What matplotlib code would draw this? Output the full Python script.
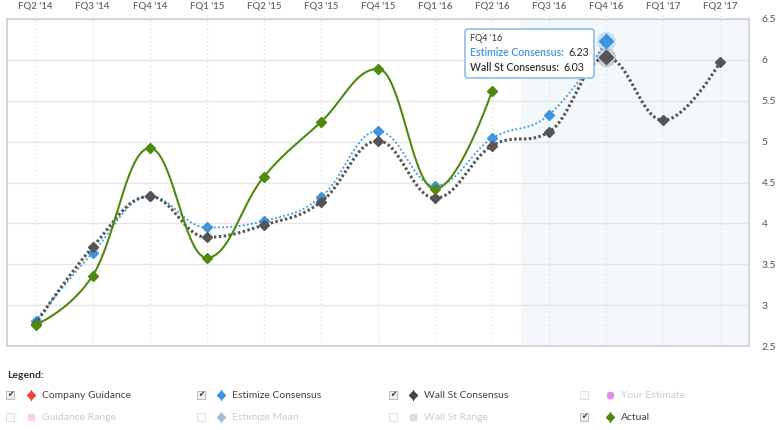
import numpy as np
import matplotlib
matplotlib.use("Agg")
import matplotlib.pyplot as plt
from matplotlib.patches import Rectangle
from matplotlib.offsetbox import TextArea, HPacker, VPacker, AnnotationBbox

plt.rcParams['font.family'] = ['Lato', 'DejaVu Sans']

quarters = ["FQ2 '14", "FQ3 '14", "FQ4 '14", "FQ1 '15", "FQ2 '15", "FQ3 '15", "FQ4 '15",
            "FQ1 '16", "FQ2 '16", "FQ3 '16", "FQ4 '16", "FQ1 '17", "FQ2 '17"]
estimize = [2.81, 3.64, 4.33, 3.95, 4.03, 4.32, 5.13, 4.46, 5.04, 5.33, 6.23]
wallst = [2.77, 3.71, 4.33, 3.83, 3.98, 4.26, 5.01, 4.31, 4.95, 5.12, 6.03, 5.26, 5.98]
actual = [2.76, 3.36, 4.92, 3.58, 4.57, 5.24, 5.89, 4.42, 5.62]
yticks = [2.5, 3, 3.5, 4, 4.5, 5, 5.5, 6, 6.5]
forecast_start = 8.5
hover_idx = 10

legend_rows = [
    [("Company Guidance", True, "#e8463c", "D"), ("Estimize Consensus", True, "#3d95e0", "D"),
     ("Wall St Consensus", True, "#444444", "D"), ("Your Estimate", False, "#e48ae8", "o")],
    [("Guidance Range", False, "#fbd3d3", "s"), ("Estimize Mean", False, "#9cc0de", "D"),
     ("Wall St Range", False, "#dddddd", "s"), ("Actual", True, "#4f8a10", "D")],
]


def hc_spline(xs, ys, n=40):
    xs = np.asarray(xs, float)
    ys = np.asarray(ys, float)
    m = len(xs)
    s = 1.5
    d = s + 1
    rc = [None] * m
    lc = [None] * m
    for i in range(1, m - 1):
        px, py = xs[i], ys[i]
        lx, ly = xs[i - 1], ys[i - 1]
        nx, ny = xs[i + 1], ys[i + 1]
        lcx = (s * px + lx) / d
        lcy = (s * py + ly) / d
        rcx = (s * px + nx) / d
        rcy = (s * py + ny) / d
        corr = ((rcy - lcy) * (rcx - px)) / (rcx - lcx) + py - rcy
        lcy += corr
        rcy += corr
        if lcy > ly and lcy > py:
            lcy = max(ly, py); rcy = 2 * py - lcy
        elif lcy < ly and lcy < py:
            lcy = min(ly, py); rcy = 2 * py - lcy
        if rcy > ny and rcy > py:
            rcy = max(ny, py); lcy = 2 * py - rcy
        elif rcy < ny and rcy < py:
            rcy = min(ny, py); lcy = 2 * py - rcy
        lc[i] = (lcx, lcy)
        rc[i] = (rcx, rcy)
    outx, outy = [xs[0]], [ys[0]]
    t = np.linspace(0, 1, n)[1:]
    for i in range(1, m):
        p0 = np.array([xs[i - 1], ys[i - 1]])
        p1 = np.array(rc[i - 1]) if rc[i - 1] is not None else p0
        p3 = np.array([xs[i], ys[i]])
        p2 = np.array(lc[i]) if lc[i] is not None else p3
        b = ((1 - t) ** 3)[:, None] * p0 + (3 * (1 - t) ** 2 * t)[:, None] * p1 + \
            (3 * (1 - t) * t ** 2)[:, None] * p2 + (t ** 3)[:, None] * p3
        outx.extend(b[:, 0]); outy.extend(b[:, 1])
    return np.array(outx), np.array(outy)


W, H = 778, 430
fig = plt.figure(figsize=(W / 100, H / 100), dpi=100)
ax = fig.add_axes([7 / W, 1 - 346 / H, (749 - 7) / W, (346 - 19) / H])

ax.set_xlim(-0.5, len(quarters) - 0.5)
ax.set_ylim(2.5, 6.5)
ax.axvspan(forecast_start, len(quarters) - 0.5, color="#f4f8fc", zorder=0, lw=0)

for y in yticks:
    ax.axhline(y, color="#e6e6e6", lw=1, zorder=1)
for i in range(len(quarters)):
    ax.axvline(i, ymin=0, ymax=1.02, color="#e4e4e4", lw=1, ls=(0, (1, 2)), zorder=1, clip_on=False)

for sp in ax.spines.values():
    sp.set_color("#d0d0d0")
    sp.set_linewidth(1.2)

x_e = np.arange(len(estimize))
x_w = np.arange(len(wallst))
x_a = np.arange(len(actual))

sx, sy = hc_spline(x_e, estimize)
ax.plot(sx, sy, color="#3d95e0", lw=1.3, ls=(0, (1, 1.3)), zorder=3)
ax.plot(x_e[:hover_idx], estimize[:hover_idx], ls="none", marker="D", ms=5, color="#3d95e0", zorder=4)

sx, sy = hc_spline(x_w, wallst)
ax.plot(sx, sy, color="#555555", lw=2.2, ls=(0, (0.8, 0.8)), zorder=5)
mask = [i for i in range(len(wallst)) if i != hover_idx]
ax.plot(x_w[mask], np.array(wallst)[mask], ls="none", marker="D", ms=5, color="#555555", zorder=6)

sx, sy = hc_spline(x_a, actual)
ax.plot(sx, sy, color="#4f8a10", lw=1.5, zorder=7)
ax.plot(x_a, actual, ls="none", marker="D", ms=5, color="#4f8a10", zorder=8)

# hover state
ax.scatter([hover_idx], [estimize[hover_idx]], s=190, color="#3d95e0", alpha=0.22, lw=0, zorder=9)
ax.plot([hover_idx], [estimize[hover_idx]], marker="D", ms=7, color="#3d95e0", zorder=10)
ax.scatter([hover_idx], [wallst[hover_idx]], s=190, color="#555555", alpha=0.25, lw=0, zorder=9)
ax.plot([hover_idx], [wallst[hover_idx]], marker="D", ms=7, color="#555555", zorder=10)

ax.set_xticks(range(len(quarters)))
ax.set_xticklabels(quarters)
ax.xaxis.tick_top()
ax.tick_params(axis="x", length=0, pad=6, labelsize=7, labelcolor="#666666")
ax.set_yticks(yticks)
ax.set_yticklabels([f"{v:g}" for v in yticks])
ax.yaxis.tick_right()
ax.tick_params(axis="y", length=0, pad=9, labelsize=7.5, labelcolor="#555555")
for lab in ax.get_yticklabels():
    lab.set_horizontalalignment("left")
for lab in ax.get_xticklabels():
    lab.set_fontweight("semibold")

# tooltip
fs = 7.6
head = TextArea(quarters[hover_idx], textprops=dict(size=6.5, color="#333333"))
row1 = HPacker(children=[TextArea("Estimize Consensus:", textprops=dict(size=fs, color="#3d95e0", weight="semibold")),
                         TextArea(f"{estimize[hover_idx]:.2f}", textprops=dict(size=fs, color="#222222"))],
               pad=0, sep=3)
row2 = HPacker(children=[TextArea("Wall St Consensus:", textprops=dict(size=fs, color="#333333", weight="semibold")),
                         TextArea(f"{wallst[hover_idx]:.2f}", textprops=dict(size=fs, color="#222222"))],
               pad=0, sep=3)
box = VPacker(children=[head, row1, row2], pad=0, sep=2.8, align="left")
ab = AnnotationBbox(box, (470, H - 34), xycoords="figure pixels", box_alignment=(0, 1),
                    frameon=True, pad=0.35,
                    bboxprops=dict(boxstyle="round,pad=0.35,rounding_size=0.2", fc="white",
                                   ec="#8fbde8", lw=1.2), zorder=20)
ax.add_artist(ab)

# legend
fig.text(7 / W, 1 - 375 / H, "Legend:", fontsize=7.5, color="#333333", va="center", fontweight="bold")
cb_x = [10, 201, 393, 584]
mk_x = [31, 221, 413, 610]
tx_x = [42, 232, 424, 621]
row_y = [395, 417]
for r, row in enumerate(legend_rows):
    yy = row_y[r]
    for c, (label, on, col, mk) in enumerate(row):
        fig.patches.append(Rectangle(((cb_x[c] - 4) / W, 1 - (yy + 4) / H), 8 / W, 8 / H,
                                     transform=fig.transFigure, fc="#f0f0f0" if on else "#fafafa",
                                     ec="#bbbbbb" if on else "#e2e2e2", lw=0.7))
        if on:
            fig.text(cb_x[c] / W, 1 - yy / H, "\u2714", fontsize=5.5, color="#333333",
                     ha="center", va="center", family="DejaVu Sans")
        if mk == "D":
            fig.lines.append(plt.Line2D([mk_x[c] / W] * 2, [1 - (yy - 5) / H, 1 - (yy + 5) / H],
                                        transform=fig.transFigure, color=col, lw=0.8))
        fig.lines.append(plt.Line2D([mk_x[c] / W], [1 - yy / H], transform=fig.transFigure,
                                    marker=mk, ms=4.5 if mk != "s" else 5, color=col, ls="none"))
        fig.text(tx_x[c] / W, 1 - yy / H, label, fontsize=7.5, va="center",
                 color="#444444" if on else "#cccccc")

fig.savefig("out.png", dpi=100)
